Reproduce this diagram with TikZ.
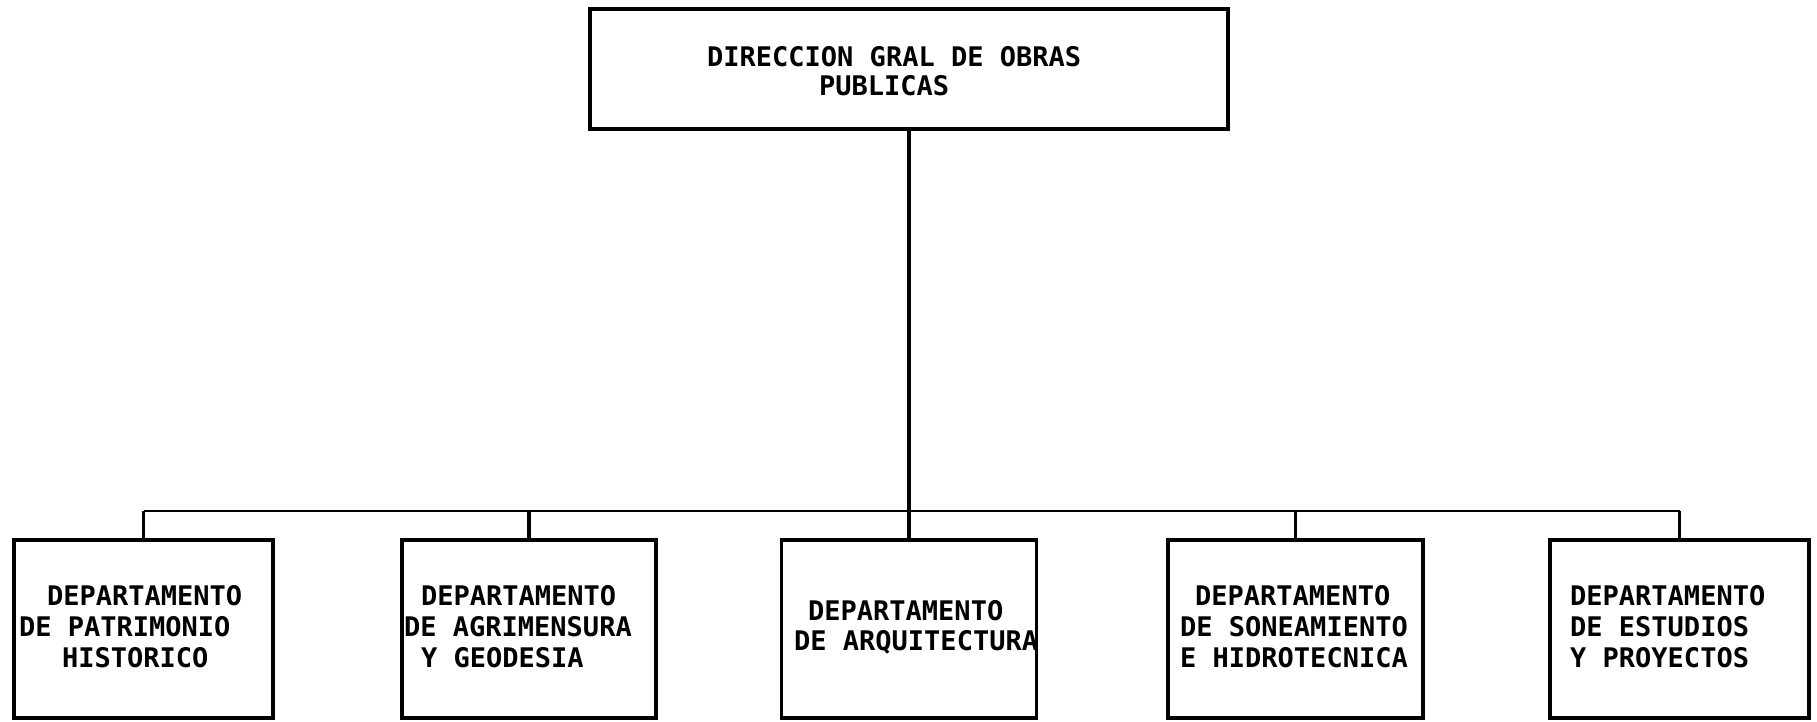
\documentclass[tikz,border=0pt]{standalone}
\usepackage{fontspec}
\setmonofont{DejaVu Sans Mono}
\begin{document}
\begin{tikzpicture}[x=1pt,y=-1pt,
  box/.style={draw=black,line width=3.6pt,inner sep=0pt,minimum height=178pt},
  topbox/.style={draw=black,line width=3.6pt,inner sep=0pt,minimum width=638pt,minimum height=120pt},
  txt/.style={anchor=base west,inner sep=0pt,font=\fontsize{27}{30}\selectfont\ttfamily\bfseries},
  trunk/.style={line width=3.8pt},
  bus/.style={line width=2pt},
  drop/.style={line width=3.2pt}]
\useasboundingbox[fill=white] (0,0) rectangle (1817,722);
% boxes
\node[topbox] (top) at (909,69) {};
\node[box,minimum width=259pt] (b1) at (143.5,629) {};
\node[box,minimum width=254pt] (b2) at (529,629) {};
\node[box,minimum width=255pt] (b3) at (909,629) {};
\node[box,minimum width=255pt] (b4) at (1295.5,629) {};
\node[box,minimum width=259pt] (b5) at (1679.5,629) {};
% texts
\node[txt] (t0a) at (707,67) {DIRECCION GRAL DE OBRAS};
\node[txt] (t0b) at (819,96) {PUBLICAS};
\node[txt] (t1a) at (47,605) {DEPARTAMENTO};
\node[txt] (t1b) at (19,636) {DE PATRIMONIO};
\node[txt] (t1c) at (62,667) {HISTORICO};
\node[txt] (t2a) at (421,605) {DEPARTAMENTO};
\node[txt] (t2b) at (404,636) {DE AGRIMENSURA};
\node[txt] (t2c) at (421,667) {Y GEODESIA};
\node[txt] (t3a) at (808,620) {DEPARTAMENTO};
\node[txt] (t3b) at (794,650) {DE ARQUITECTURA};
\node[txt] (t4a) at (1195,605) {DEPARTAMENTO};
\node[txt] (t4b) at (1180,636) {DE SONEAMIENTO};
\node[txt] (t4c) at (1180,667) {E HIDROTECNICA};
\node[txt] (t5a) at (1570,605) {DEPARTAMENTO};
\node[txt] (t5b) at (1570,636) {DE ESTUDIOS};
\node[txt] (t5c) at (1570,667) {Y PROYECTOS};
% connectors
\coordinate (busL) at (143.5,511);
\coordinate (busR) at (1679.5,511);
\draw[trunk] (top.south) -- (b3.north);
\draw[bus] (busL) -- (busR);
\draw[drop] (b1.north) -- (b1.north |- busL);
\draw[drop] (b2.north) -- (b2.north |- busL);
\draw[drop] (b4.north) -- (b4.north |- busL);
\draw[drop] (b5.north) -- (b5.north |- busL);
\end{tikzpicture}
\end{document}
